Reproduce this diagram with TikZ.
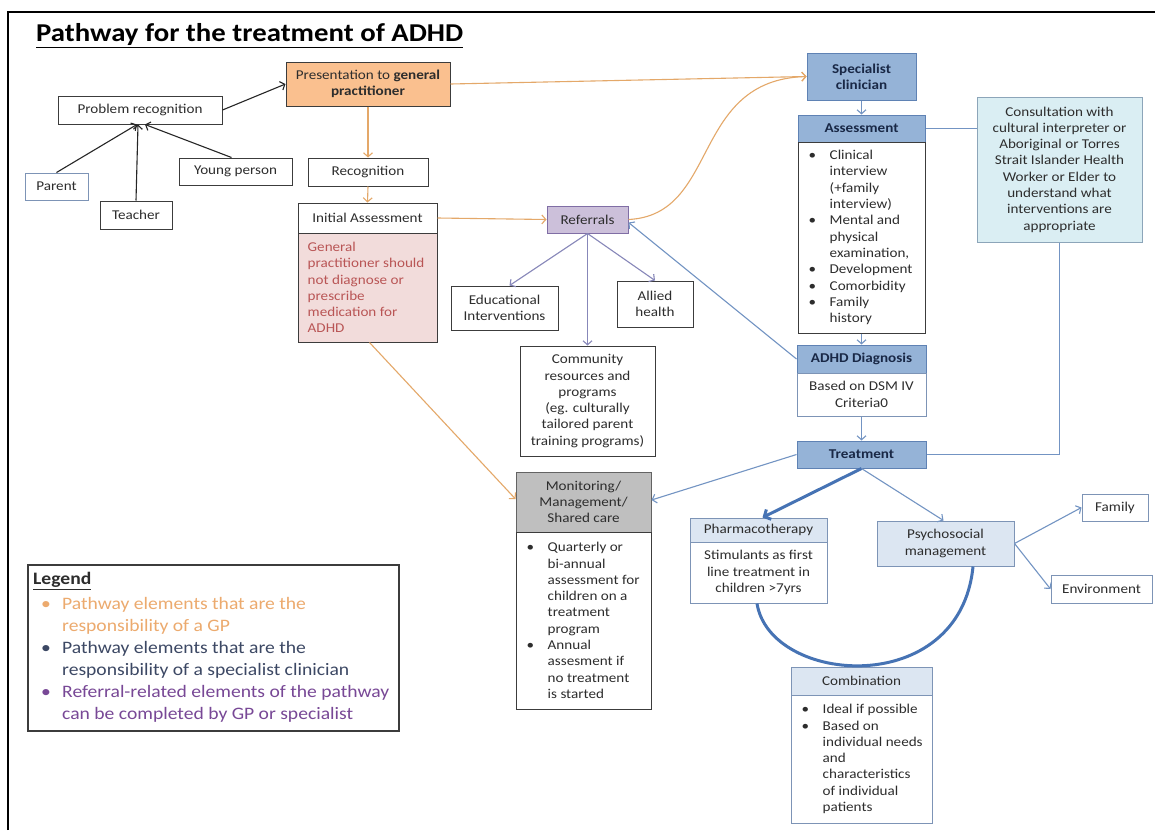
\documentclass[tikz,border=0pt]{standalone}
\usepackage{fontspec}
\setmainfont{Carlito}[FakeStretch=1.12]
\usetikzlibrary{arrows.meta}
\definecolor{txt}{RGB}{45,45,45}
\definecolor{dk}{RGB}{60,60,60}
\definecolor{navy}{RGB}{25,40,70}
\definecolor{blueH}{RGB}{149,179,215}
\definecolor{blueBd}{RGB}{95,130,180}
\definecolor{lightB}{RGB}{220,230,242}
\definecolor{lightBd}{RGB}{125,148,182}
\definecolor{consF}{RGB}{218,238,243}
\definecolor{consBd}{RGB}{140,165,185}
\definecolor{presF}{RGB}{250,192,143}
\definecolor{refF}{RGB}{204,192,218}
\definecolor{refBd}{RGB}{128,110,165}
\definecolor{pinkF}{RGB}{242,220,219}
\definecolor{pinkT}{RGB}{185,85,85}
\definecolor{grayF}{RGB}{191,191,191}
\definecolor{cOrg}{RGB}{228,168,105}
\definecolor{cPur}{RGB}{135,135,185}
\definecolor{cBlu}{RGB}{115,148,195}
\definecolor{cBluT}{RGB}{70,115,180}
\definecolor{lgOr}{RGB}{236,170,110}
\definecolor{lgBl}{RGB}{60,72,100}
\definecolor{lgPu}{RGB}{120,72,150}
\newcommand\fsA{\fontsize{13.5}{16.3}\selectfont}
\newcommand\fsL{\fontsize{17.5}{22}\selectfont}
\newcommand\fsT{\fontsize{25.7}{30}\selectfont}
\newcommand\bulit{\makebox[21pt][l]{\textbullet}}
\newcommand\indt{\makebox[21pt]{}}
\newcommand\bulitL{\hspace*{8pt}\makebox[21pt][l]{\textbullet}}
\newcommand\indtL{\makebox[29pt]{}}
\tikzset{
  sz/.style 2 args={minimum width=#1pt, minimum height=#2pt},
  base/.style={rectangle, line width=1pt, inner sep=1pt, align=center, font=\fsA, text=txt},
  wbox/.style={base, draw=dk, fill=white},
  pbox/.style={base, draw=lightBd, fill=white},
  presbox/.style={base, draw=dk, fill=presF},
  refbox/.style={base, draw=refBd, fill=refF},
  pinkbox/.style={base, draw=dk, fill=pinkF},
  bhead/.style={base, draw=blueBd, fill=blueH, font=\fsA\bfseries, text=navy},
  lhead/.style={base, draw=lightBd, fill=lightB},
  lbody/.style={base, draw=lightBd, fill=white},
  consbox/.style={base, draw=consBd, fill=consF},
  graybox/.style={base, draw=dk!80, fill=grayF},
  btxt/.style={anchor=west, align=left, inner xsep=11pt, inner ysep=0pt, font=\fsA, text=txt},
  arr/.style={-{Straight Barb[length=4pt,width=9pt]}, line width=1.1pt},
  blk/.style={draw=black!85},
  org/.style={draw=cOrg},
  pur/.style={draw=cPur},
  blu/.style={draw=cBlu},
  bluT/.style={draw=cBluT, line width=3pt},
}
\begin{document}
\begin{tikzpicture}[x=1pt,y=-1pt]
\useasboundingbox (0,0) rectangle (1155,830);
\fill[white] (0,0) rectangle (1155,830);
% frame
\draw[line width=1.3pt, black] (8,830) -- (8,12) -- (1155,12);
% title
\node[anchor=west, inner sep=0pt, font=\fsT\bfseries, text=black] (title) at (36,36) {\underline{Pathway for the treatment of ADHD}};

% left cluster
\node[wbox, sz={164}{28}] (prob) at (140,110) {Problem recognition};
\node[presbox, sz={164}{44}] (pres) at (368,84) {Presentation to \textbf{general}\\\textbf{practitioner}};
\node[pbox, sz={63}{27}] (parent) at (56.5,186.5) {Parent};
\node[wbox, sz={72}{28}] (teacher) at (136,215) {Teacher};
\node[wbox, sz={113}{27}] (young) at (235.5,171.5) {Young person};
\node[wbox, sz={120}{28}] (recog) at (368,172) {Recognition};
\node[wbox, sz={139}{30}] (ia) at (367.5,218) {Initial Assessment};
\node[pinkbox, sz={139}{109}] (iab) at (367.5,287.5) {};
\node[btxt, inner xsep=10pt, text=pinkT] (iabt) at (iab.west) {General\\practitioner should\\not diagnose or\\prescribe\\medication for\\ADHD};

% referrals
\node[refbox, sz={81}{27}] (refer) at (587.5,219.5) {Referrals};
\node[wbox, sz={107}{44}] (edu) at (504.5,308) {Educational\\Interventions};
\node[wbox, sz={76}{46}] (allied) at (655,304) {Allied\\health};
\node[wbox, sz={135}{110}] (comm) at (587.5,401) {Community\\resources and\\programs\\(eg. culturally\\tailored parent\\training programs)};

% monitoring
\node[graybox, sz={135}{60}] (mon) at (583.5,502) {Monitoring/\\Management/\\Shared care};
\node[wbox, sz={135}{177}] (monb) at (583.5,620.5) {};
\node[btxt] (monbt) at (monb.west) {\bulit Quarterly or\\\indt bi-annual\\\indt assessment for\\\indt children on a\\\indt treatment\\\indt program\\\bulit Annual\\\indt assesment if\\\indt no treatment\\\indt is started};

% specialist column
\node[bhead, sz={109}{47}] (spec) at (861.5,76.5) {Specialist\\clinician};
\node[bhead, sz={127}{27}] (ash) at (861.5,128.5) {Assessment};
\node[wbox, sz={127}{191}] (asb) at (861.5,237.5) {};
\node[btxt] (asbt) at (asb.west) {\bulit Clinical\\\indt interview\\\indt (+family\\\indt interview)\\\bulit Mental and\\\indt physical\\\indt examination,\\\bulit Development\\\bulit Comorbidity\\\bulit Family\\\indt history};
\node[consbox, sz={165}{145}] (cons) at (1059.5,169.5) {Consultation with\\cultural interpreter or\\Aboriginal or Torres\\Strait Islander Health\\Worker or Elder to\\understand what\\interventions are\\appropriate};
\node[bhead, sz={129}{28}] (adh) at (861.5,359) {ADHD Diagnosis};
\node[lbody, sz={129}{43}] (adb) at (861.5,394.5) {Based on DSM IV\\Criteria0};
\node[bhead, sz={129}{27}] (treat) at (861.5,454.5) {Treatment};

% treatment options
\node[lhead, sz={137}{24}] (phh) at (758.5,530) {Pharmacotherapy};
\node[lbody, sz={137}{61}] (phb) at (758.5,572.5) {Stimulants as first\\line treatment in\\children >7yrs};
\node[lhead, sz={137}{45}] (psy) at (945.5,543.5) {Psychosocial\\management};
\node[lbody, sz={66}{27}] (fam) at (1115,507.5) {Family};
\node[lbody, sz={101}{28}] (env) at (1101.5,589) {Environment};
\node[lhead, sz={141}{28}] (cbh) at (861.5,681) {Combination};
\node[lbody, sz={141}{128}] (cbb) at (861.5,759) {};
\node[btxt] (cbbt) at (cbb.west) {\bulit Ideal if possible\\\bulit Based on\\\indt individual needs\\\indt and\\\indt characteristics\\\indt of individual\\\indt patients};

% legend
\node[draw=dk, line width=1.2pt, fill=white, sz={371}{166}] (leg) at (213.5,648) {};
\node[anchor=north west, align=left, inner sep=0pt, font=\fsL] (legt) at (33,572) {\textcolor{txt}{\textbf{\underline{Legend}}}\\[3pt]
\textcolor{lgOr}{\bulitL Pathway elements that are the}\\
\textcolor{lgOr}{\indtL responsibility of a GP}\\
\textcolor{lgBl}{\bulitL Pathway elements that are the}\\
\textcolor{lgBl}{\indtL responsibility of a specialist clinician}\\
\textcolor{lgPu}{\bulitL Referral-related elements of the pathway}\\
\textcolor{lgPu}{\indtL can be completed by GP or specialist}};

% black connectors
\draw[arr, blk] (prob.east) -- (pres.west);
\draw[arr, blk] (parent.north) -- ([xshift=-3pt]prob.south);
\draw[arr, blk] (teacher.north) -- ([xshift=-2pt]prob.south);
\draw[arr, blk] ([xshift=-4pt]young.north) -- ([xshift=5pt]prob.south);

% orange connectors
\draw[arr, org] (pres.south) -- (recog.north);
\draw[arr, org] (recog.south) -- (ia.north);
\draw[arr, org] (pres.east) -- (spec.west);
\draw[arr, org] (ia.east) -- (refer.west);
\draw[arr, org] ([xshift=2pt]iab.south) -- ([yshift=3pt]mon.west);
\draw[arr, org] (refer.east) .. controls (720,215) and (690,80) .. (spec.west);

% purple connectors
\draw[arr, pur] (refer.south) -- ([xshift=5pt]edu.north);
\draw[arr, pur] (refer.south) -- (comm.north);
\draw[arr, pur] (refer.south) -- (allied.north);

% blue connectors
\draw[arr, blu] (spec.south) -- (ash.north);
\draw[blu, line width=1.1pt] (ash.east) -- (ash.east -| cons.west);
\draw[blu, line width=1.1pt] (cons.south) |- (treat.east);
\draw[arr, blu] (asb.south) -- (adh.north);
\draw[arr, blu] (adh.west) -- ([yshift=-3pt]refer.east);
\draw[arr, blu] (adb.south) -- (treat.north);
\draw[arr, blu] (treat.west) -- ([yshift=2pt]mon.east);
\draw[-{Straight Barb[length=5pt,width=11pt]}, bluT] (treat.south) -- ([xshift=4pt]phh.north);
\draw[arr, blu] (treat.south) -- ([xshift=-2pt]psy.north);
\draw[arr, blu] (psy.east) -- (fam.west);
\draw[arr, blu] (psy.east) -- (env.west);
\draw[bluT] ([xshift=-1.5pt]phb.south) .. controls (770,685) and (960,700) .. ([xshift=27.5pt]psy.south);
\end{tikzpicture}
\end{document}
